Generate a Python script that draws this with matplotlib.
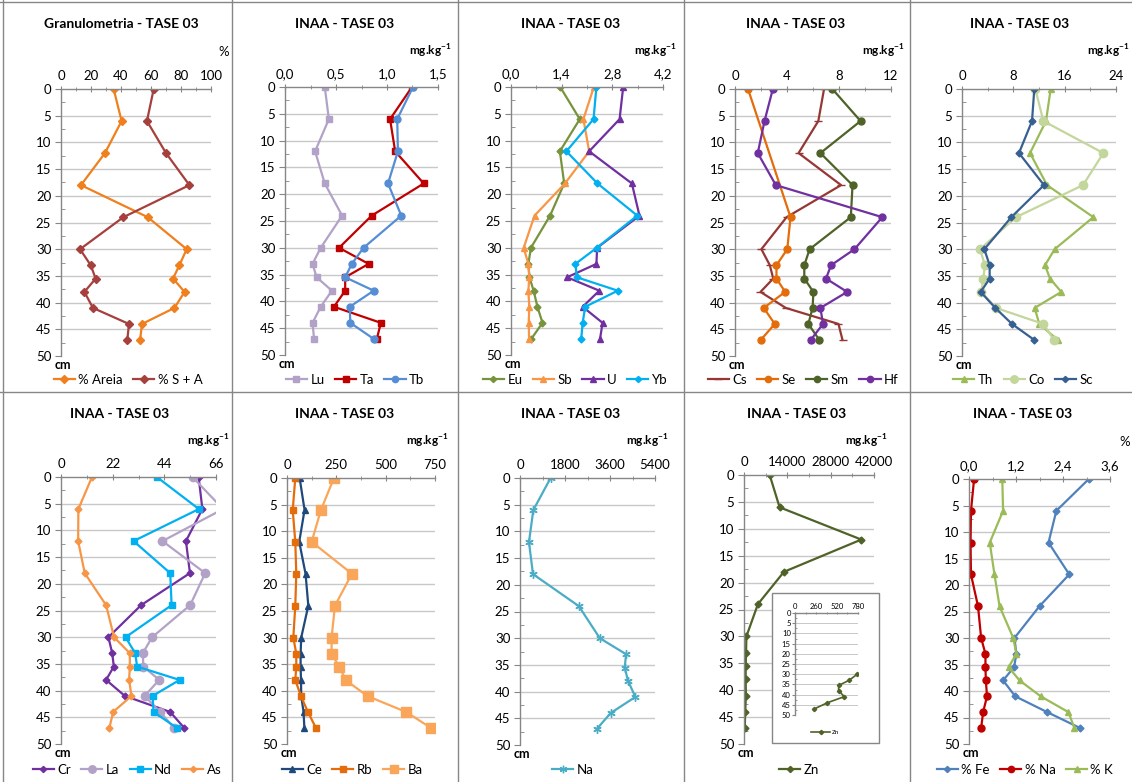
import numpy as np
import matplotlib
matplotlib.use("Agg")
import matplotlib.pyplot as plt
from matplotlib.patches import Rectangle
from matplotlib.lines import Line2D

plt.rcParams['font.family'] = ['Lato', 'DejaVu Sans']

W, H = 1132, 782

# sampling depths (cm)
depth = [0, 6, 12, 18, 24, 30, 33, 35.5, 38, 41, 44, 47]
se_depth = [0, 24, 30, 33, 35.5, 38, 41, 44, 47]

# granulometry (%)
areia = [35.1, 40.4, 29.3, 13.3, 57.8, 83.8, 78.9, 74.7, 82.4, 75.6, 54.0, 52.7]
silte_argila = [61.8, 57.3, 70.0, 85.6, 41.6, 12.7, 19.8, 23.1, 15.6, 21.3, 45.3, 44.2]

# INAA (mg/kg)
lu = [0.39, 0.43, 0.295, 0.39, 0.56, 0.35, 0.27, 0.31, 0.46, 0.35, 0.27, 0.285]
ta = [1.245, 1.03, 1.08, 1.36, 0.85, 0.53, 0.82, 0.59, 0.59, 0.48, 0.94, 0.90]
tb = [1.255, 1.10, 1.107, 1.01, 1.14, 0.77, 0.655, 0.59, 0.87, 0.635, 0.64, 0.87]

eu = [1.36, 1.90, 1.35, 1.47, 1.08, 0.55, 0.48, 0.51, 0.625, 0.73, 0.87, 0.56]
sb = [2.29, 2.00, 2.16, 1.49, 0.65, 0.35, 0.48, 0.505, 0.48, 0.505, 0.49, 0.50]
u = [3.10, 3.00, 2.16, 3.34, 3.55, 2.38, 2.36, 1.55, 2.44, 1.98, 2.53, 2.46]
yb = [2.36, 2.28, 1.53, 2.39, 3.49, 2.37, 1.78, 1.82, 2.95, 2.05, 1.98, 1.94]

cs = [6.85, 6.41, 4.89, 8.16, 3.97, 2.03, 2.68, 2.94, 1.96, 3.91, 7.96, 8.27]
se = [1.0, 4.27, 4.02, 3.19, 3.19, 3.86, 2.21, 3.06, 1.98]
sm = [7.49, 9.66, 6.57, 9.04, 8.91, 5.74, 5.33, 5.33, 6.03, 5.97, 5.64, 6.49]
hf = [2.91, 2.27, 1.75, 3.14, 11.33, 9.19, 7.39, 7.0, 8.63, 6.57, 6.77, 5.82]

th = [13.82, 13.09, 10.6, 13.25, 20.47, 14.44, 12.94, 13.71, 15.48, 11.32, 12.05, 14.91]
co = [11.43, 12.68, 22.03, 18.86, 8.42, 2.81, 3.58, 3.32, 3.01, 5.3, 12.68, 14.34]
sc = [11.27, 10.91, 8.88, 12.78, 7.69, 3.48, 4.31, 4.31, 2.91, 5.19, 7.79, 11.27]

cr = [58.6, 60.2, 53.2, 54.9, 34.1, 20.2, 21.8, 22.5, 19.2, 27.2, 46.5, 52.5]
la = [56.0, 69.0, 43.2, 61.4, 55.0, 38.8, 34.8, 35.1, 41.8, 35.6, 42.2, 48.2]
nd = [40.8, 58.7, 30.9, 46.5, 47.1, 27.5, 31.6, 32.4, 50.5, 39.0, 39.4, 49.4]
as_ = [13.2, 7.4, 7.3, 10.1, 19.2, 22.6, 29.3, 29.3, 29.0, 30.0, 22.2, 20.6]

ce = [64, 89, 62, 94, 108, 72, 69, 69, 71, 72, 84, 88]
rb = [42, 29, 42, 47, 42, 32, 47, 47, 42, 71, 106, 147]
ba = [238, 172, 125, 329, 243, 226, 226, 265, 298, 408, 605, 730]

na = [1224, 532, 359, 519, 2354, 3192, 4243, 4189, 4322, 4615, 3631, 3072]

zn = [8300, 11500, 37900, 12900, 4500, 770, 670, 540, 540, 610, 400, 240]

# INAA (%)
fe_pct = [3.06, 2.23, 2.03, 2.56, 1.80, 1.16, 1.21, 1.15, 0.87, 1.18, 2.00, 2.84]
na_pct = [0.13, 0.05, 0.04, 0.05, 0.23, 0.31, 0.42, 0.42, 0.43, 0.46, 0.36, 0.31]
k_pct = [0.85, 0.87, 0.53, 0.65, 0.78, 1.13, 1.21, 1.01, 1.29, 1.83, 2.54, 2.69]

UNIT = 'mg.kg$^{\\mathregular{-1}}$'
GRAY = '#868686'

fig = plt.figure(figsize=(W / 100, H / 100), dpi=100)


def fx(x):
    return x / W


def fy(y):
    return 1 - y / H


def series(x, d, label, color, marker, ms):
    return dict(x=x, d=d, label=label, color=color, marker=marker, ms=ms)


# (axes box px: left, right, top, bottom), xmax, ticks, tick labels, title, unit, title x, legend x, series
panels = [
    ((61, 211, 89, 356), 100, [0, 20, 40, 60, 80, 100], None, 'Granulometria - TASE 03', '%', 121, 128,
     [series(areia, depth, '% Areia', '#F0801E', 'D', 4),
      series(silte_argila, depth, '% S + A', '#A5403C', 'D', 4)]),
    ((285, 438, 87, 355), 1.5, [0, 0.5, 1.0, 1.5], ['0,0', '0,5', '1,0', '1,5'], 'INAA - TASE 03', UNIT, 345, 355,
     [series(lu, depth, 'Lu', '#B3A2C7', 's', 5),
      series(ta, depth, 'Ta', '#C00000', 's', 5),
      series(tb, depth, 'Tb', '#558ED5', 'o', 5)]),
    ((511, 663, 87, 355), 4.2, [0, 1.4, 2.8, 4.2], ['0,0', '1,4', '2,8', '4,2'], 'INAA - TASE 03', UNIT, 571, 575,
     [series(eu, depth, 'Eu', '#77933C', 'D', 3.5),
      series(sb, depth, 'Sb', '#F79646', '^', 5),
      series(u, depth, 'U', '#7030A0', '^', 5),
      series(yb, depth, 'Yb', '#00B0F0', 'D', 3.5)]),
    ((735, 891, 89, 356), 12, [0, 4, 8, 12], None, 'INAA - TASE 03', UNIT, 796, 803,
     [series(cs, depth, 'Cs', '#953735', '_', 6),
      series(se, se_depth, 'Se', '#E46C0A', 'o', 5),
      series(sm, depth, 'Sm', '#4F6228', 'o', 5),
      series(hf, depth, 'Hf', '#7030A0', 'o', 5)]),
    ((962, 1116, 89, 356), 24, [0, 8, 16, 24], None, 'INAA - TASE 03', UNIT, 1020, 1023,
     [series(th, depth, 'Th', '#9BBB59', '^', 5),
      series(co, depth, 'Co', '#C3D69B', 'o', 6),
      series(sc, depth, 'Sc', '#376092', 'D', 3.5)]),
    ((61, 216, 477, 744), 66, [0, 22, 44, 66], None, 'INAA - TASE 03', UNIT, 120, 127,
     [series(cr, depth, 'Cr', '#7030A0', 'D', 3.5),
      series(la, depth, 'La', '#B3A2C7', 'o', 6),
      series(nd, depth, 'Nd', '#00B0F0', 's', 5),
      series(as_, depth, 'As', '#F79646', 'D', 3.5)]),
    ((287, 435, 478, 744), 750, [0, 250, 500, 750], None, 'INAA - TASE 03', UNIT, 345, 352,
     [series(ce, depth, 'Ce', '#1F497D', '^', 5),
      series(rb, depth, 'Rb', '#E46C0A', 's', 5),
      series(ba, depth, 'Ba', '#F9A65A', 's', 7)]),
    ((520, 655, 478, 745), 5400, [0, 1800, 3600, 5400], None, 'INAA - TASE 03', UNIT, 571, 573,
     [series(na, depth, 'Na', '#4BACC6', (6, 2, 0), 6)]),
    ((744, 874, 475, 744), 42000, [0, 14000, 28000, 42000], None, 'INAA - TASE 03', UNIT, 797, 799,
     [series(zn, depth, 'Zn', '#4F6228', 'D', 3.5)]),
    ((969, 1110, 479, 744), 3.6, [0, 1.2, 2.4, 3.6], ['0,0', '1,2', '2,4', '3,6'], 'INAA - TASE 03', '%', 1023, 1025,
     [series(fe_pct, depth, '% Fe', '#4F81BD', 'D', 3.5),
      series(na_pct, depth, '% Na', '#C00000', 'o', 5),
      series(k_pct, depth, '% K', '#9BBB59', '^', 5)]),
]


def style_axis(ax, xmax, ticks, labels, fs=9.5, glw=1.0):
    ax.set_xlim(0, xmax)
    ax.set_ylim(50, 0)
    ax.xaxis.tick_top()
    ax.set_xticks(ticks)
    if labels is not None:
        ax.set_xticklabels(labels)
    ax.set_xticks([(a + b) / 2 for a, b in zip(ticks[:-1], ticks[1:])], minor=True)
    ax.set_yticks(range(0, 51, 5))
    ax.set_yticks(np.arange(2.5, 50, 5), minor=True)
    ax.hlines(range(5, 50, 5), 0, xmax, color='#C8C8C8', lw=glw, zorder=0)
    for s in ['right', 'bottom']:
        ax.spines[s].set_visible(False)
    for s in ['top', 'left']:
        ax.spines[s].set_color(GRAY)
        ax.spines[s].set_linewidth(1.0)
    ax.tick_params(axis='both', which='major', labelsize=fs, color=GRAY, length=4, width=0.8, pad=3)
    ax.tick_params(axis='x', which='both', direction='inout')
    ax.tick_params(axis='y', which='minor', direction='in', length=3, color=GRAY)
    ax.tick_params(axis='x', which='minor', length=3, color=GRAY)
    ax.set_facecolor('none')


for i, (box, xmax, ticks, labels, title, unit, tx, lx, sers) in enumerate(panels):
    L, R, T, B = box
    ax = fig.add_axes([fx(L), fy(B), fx(R - L), (B - T) / H])
    style_axis(ax, xmax, ticks, labels)
    for s in sers:
        ax.plot(s['x'], s['d'], color=s['color'], marker=s['marker'], ms=s['ms'], lw=1.6,
                mec=s['color'], mfc=s['color'], label=s['label'])
    row_off = 0 if i < 5 else 390
    fig.text(fx(tx), fy(24 + row_off), title, ha='center', va='center', fontsize=10, fontweight='bold')
    if unit == '%':
        ux = 224 if i < 5 else 1125
        fig.text(fx(ux), fy(52 + row_off), '%', ha='center', va='center', fontsize=9.5)
    else:
        ux = (R + 13) if i != 5 else 229
        fig.text(fx(ux), fy(51 + row_off), unit, ha='right', va='center', fontsize=8.5, fontweight='bold')
    fig.text(fx(L - 6), fy(B + 9), 'cm', ha='left', va='center', fontsize=9, fontweight='bold')
    ax.legend(loc='center', bbox_to_anchor=(fx(lx), fy(380 + row_off)), bbox_transform=fig.transFigure,
              ncol=len(sers), frameon=False, fontsize=9.5, handlelength=1.6, columnspacing=0.8,
              handletextpad=0.25, borderpad=0, markerscale=0.9)

# Zn inset (low values, 30-47 cm)
fig.add_artist(Rectangle((fx(772), fy(743)), fx(879 - 772), (743 - 593) / H, transform=fig.transFigure,
                         facecolor='white', edgecolor=GRAY, lw=1, zorder=5))
iax = fig.add_axes([fx(795), fy(715), fx(858 - 795), (715 - 613) / H])
iax.set_zorder(6)
style_axis(iax, 780, [0, 260, 520, 780], None, fs=5.5, glw=0.7)
iax.tick_params(axis='both', which='major', length=2, pad=1)
iax.tick_params(axis='both', which='minor', length=1.5)
iax.plot(zn[5:], depth[5:], color='#4F6228', marker='D', ms=2.2, lw=1.2, label='Zn')
iax.legend(loc='center', bbox_to_anchor=(fx(825), fy(732)), bbox_transform=fig.transFigure,
           frameon=False, fontsize=4.5, handlelength=3, handletextpad=0.2, borderpad=0)

# panel borders
for x in [3, 232, 458, 684, 910]:
    fig.add_artist(Line2D([fx(x), fx(x)], [0, 1], transform=fig.transFigure, color=GRAY, lw=1))
for y in [2, 392]:
    fig.add_artist(Line2D([0, 1], [fy(y), fy(y)], transform=fig.transFigure, color=GRAY, lw=1))

fig.savefig('out.png', dpi=100)
